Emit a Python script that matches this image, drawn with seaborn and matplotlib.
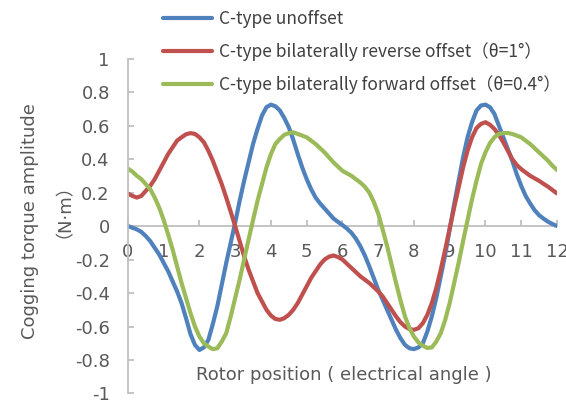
import numpy as np
import pandas as pd
import matplotlib
matplotlib.use("Agg")
import matplotlib.pyplot as plt
import seaborn as sns

# ---------------- data ----------------
rotor_position = [
    0.0, 0.125, 0.25, 0.375, 0.5, 0.625, 0.75, 0.875,
    1.0, 1.125, 1.25, 1.375, 1.5, 1.625, 1.75, 1.875,
    2.0, 2.125, 2.25, 2.375, 2.5, 2.625, 2.75, 2.875,
    3.0, 3.125, 3.25, 3.375, 3.5, 3.625, 3.75, 3.875,
    4.0, 4.125, 4.25, 4.375, 4.5, 4.625, 4.75, 4.875,
    5.0, 5.125, 5.25, 5.375, 5.5, 5.625, 5.75, 5.875,
    6.0, 6.125, 6.25, 6.375, 6.5, 6.625, 6.75, 6.875,
    7.0, 7.125, 7.25, 7.375, 7.5, 7.625, 7.75, 7.875,
    8.0, 8.125, 8.25, 8.375, 8.5, 8.625, 8.75, 8.875,
    9.0, 9.125, 9.25, 9.375, 9.5, 9.625, 9.75, 9.875,
    10.0, 10.125, 10.25, 10.375, 10.5, 10.625, 10.75, 10.875,
    11.0, 11.125, 11.25, 11.375, 11.5, 11.625, 11.75, 11.875,
    12.0]

unoffset = [
    0.0, -0.01, -0.02, -0.035, -0.06, -0.09, -0.13, -0.17,
    -0.22, -0.27, -0.33, -0.39, -0.46, -0.55, -0.645, -0.71,
    -0.74, -0.725, -0.68, -0.585, -0.48, -0.35, -0.22, -0.10,
    0.02, 0.15, 0.27, 0.38, 0.49, 0.58, 0.66, 0.71,
    0.725, 0.715, 0.69, 0.645, 0.59, 0.515, 0.43, 0.35,
    0.28, 0.22, 0.17, 0.135, 0.105, 0.075, 0.045, 0.025,
    0.006, -0.015, -0.04, -0.075, -0.12, -0.175, -0.24, -0.31,
    -0.38, -0.44, -0.50, -0.56, -0.62, -0.67, -0.71, -0.73,
    -0.735, -0.725, -0.70, -0.63, -0.54, -0.43, -0.30, -0.17,
    -0.02, 0.13, 0.27, 0.41, 0.53, 0.62, 0.69, 0.72,
    0.725, 0.71, 0.67, 0.60, 0.53, 0.46, 0.39, 0.31,
    0.24, 0.18, 0.135, 0.095, 0.065, 0.044, 0.026, 0.012,
    0.0]

reverse_offset = [
    0.194, 0.18, 0.17, 0.18, 0.21, 0.24, 0.28, 0.33,
    0.38, 0.43, 0.47, 0.51, 0.53, 0.548, 0.555, 0.55,
    0.53, 0.50, 0.45, 0.39, 0.32, 0.25, 0.17, 0.085,
    0.0, -0.09, -0.18, -0.26, -0.33, -0.40, -0.45, -0.50,
    -0.535, -0.555, -0.56, -0.55, -0.53, -0.50, -0.46, -0.41,
    -0.36, -0.31, -0.27, -0.23, -0.20, -0.183, -0.176, -0.185,
    -0.20, -0.225, -0.25, -0.275, -0.30, -0.32, -0.34, -0.365,
    -0.39, -0.42, -0.46, -0.50, -0.54, -0.575, -0.60, -0.615,
    -0.62, -0.61, -0.58, -0.53, -0.46, -0.37, -0.26, -0.14,
    -0.014, 0.11, 0.23, 0.35, 0.45, 0.53, 0.585, 0.61,
    0.62, 0.605, 0.58, 0.545, 0.50, 0.45, 0.40, 0.365,
    0.34, 0.32, 0.30, 0.285, 0.27, 0.252, 0.235, 0.215,
    0.195]

forward_offset = [
    0.343, 0.325, 0.30, 0.28, 0.25, 0.22, 0.17, 0.11,
    0.036, -0.05, -0.14, -0.24, -0.34, -0.43, -0.52, -0.60,
    -0.66, -0.70, -0.72, -0.735, -0.73, -0.69, -0.64, -0.54,
    -0.43, -0.32, -0.20, -0.08, 0.036, 0.15, 0.25, 0.35,
    0.43, 0.49, 0.52, 0.545, 0.555, 0.56, 0.55, 0.54,
    0.53, 0.51, 0.49, 0.465, 0.44, 0.41, 0.38, 0.355,
    0.33, 0.315, 0.30, 0.28, 0.26, 0.235, 0.20, 0.145,
    0.075, -0.02, -0.12, -0.23, -0.34, -0.445, -0.54, -0.61,
    -0.66, -0.695, -0.715, -0.728, -0.725, -0.69, -0.64, -0.56,
    -0.46, -0.34, -0.22, -0.09, 0.036, 0.16, 0.27, 0.37,
    0.44, 0.495, 0.53, 0.55, 0.555, 0.556, 0.55, 0.54,
    0.53, 0.51, 0.49, 0.465, 0.44, 0.415, 0.39, 0.36,
    0.335]

series_names = ["C-type unoffset",
                "C-type bilaterally reverse offset（θ=1°）",
                "C-type bilaterally forward offset（θ=0.4°）"]
series_colors = ["#4F81BD", "#C0504D", "#9BBB59"]

y_ticks = [-1, -0.8, -0.6, -0.4, -0.2, 0, 0.2, 0.4, 0.6, 0.8, 1]
y_tick_labels = ["-1", "-0.8", "-0.6", "-0.4", "-0.2", "0", "0.2", "0.4", "0.6", "0.8", "1"]
x_ticks = [0, 1, 2, 3, 4, 5, 6, 7, 8, 9, 10, 11, 12]

df = pd.concat([
    pd.DataFrame({"x": rotor_position, "y": vals, "series": name})
    for name, vals in zip(series_names, [unoffset, reverse_offset, forward_offset])
], ignore_index=True)

# ---------------- drawing ----------------
sns.set_theme(style="white")
plt.rcParams["font.family"] = ["DejaVu Sans", "Noto Sans CJK SC"]

fig = plt.figure(figsize=(5.66, 4.03), dpi=100)
ax = fig.add_axes([0.226, 0.0236, 0.758, 0.831])

sns.lineplot(data=df, x="x", y="y", hue="series", hue_order=series_names,
             palette=series_colors, linewidth=3, ax=ax, sort=False,
             estimator=None)
for ln in ax.get_lines():
    ln.set_solid_joinstyle("round")
    ln.set_solid_capstyle("round")

ax.set_xlim(0, 12)
ax.set_ylim(-1, 1)
ax.set_xticks(x_ticks)
ax.set_xticklabels([str(t) for t in x_ticks])
ax.set_yticks(y_ticks)
ax.set_yticklabels(y_tick_labels)
ax.set_xlabel("")
ax.set_ylabel("")

grey = "#BFBFBF"
txt = "#595959"
for s in ["top", "right"]:
    ax.spines[s].set_visible(False)
ax.spines["left"].set_color(grey)
ax.spines["left"].set_linewidth(1.3)
ax.spines["bottom"].set_color(grey)
ax.spines["bottom"].set_linewidth(1.3)
ax.spines["bottom"].set_position(("data", 0))
ax.spines["bottom"].set_zorder(0)

ax.tick_params(axis="x", direction="in", length=4, width=1.3, color=grey,
               labelsize=13, labelcolor=txt, pad=12, bottom=True)
ax.tick_params(axis="y", direction="in", length=4, width=1.3, color=grey,
               labelsize=13, labelcolor=txt, pad=13, left=True)

ax.text(6.05, -0.89, "Rotor position ( electrical angle )", ha="center", va="center",
        fontsize=13, color=txt)

fig.text(0.053, 0.452, "Cogging torque amplitude", rotation=90, ha="center",
         va="center", fontsize=13, color=txt)
fig.text(0.097, 0.50, "（N·m）", rotation=90, ha="center", va="center",
         fontsize=13, color=txt, family=["DejaVu Sans", "Noto Sans CJK SC"])

leg = ax.legend(loc="upper left", bbox_to_anchor=(0.288, 0.975),
                bbox_transform=fig.transFigure, frameon=False,
                handlelength=2.8, handletextpad=0.4, labelspacing=0.82,
                borderpad=0, borderaxespad=0,
                prop={"family": ["Noto Sans CJK SC", "DejaVu Sans"], "size": 12.5})
for t in leg.get_texts():
    t.set_color("#404040")
for l in leg.get_lines():
    l.set_linewidth(3)

fig.savefig("out.png", dpi=100)
